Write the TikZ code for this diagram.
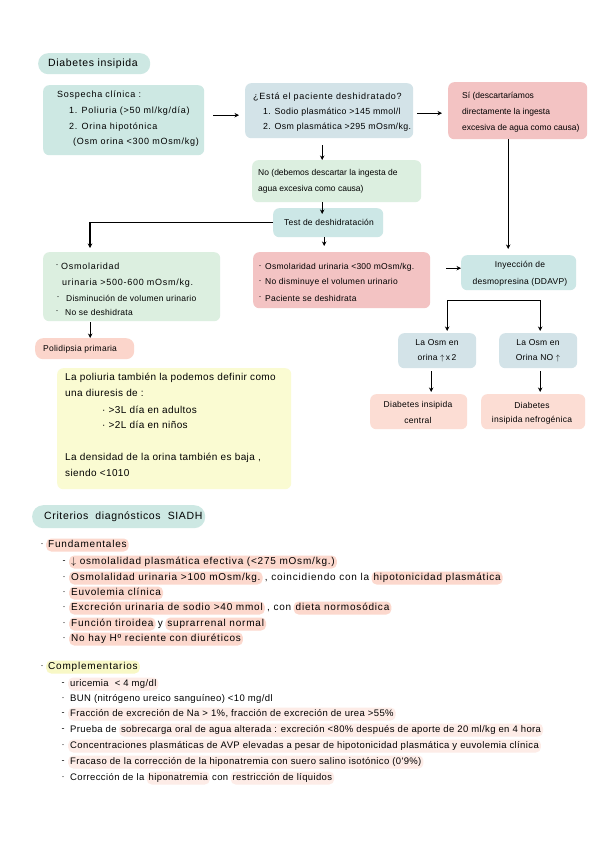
\documentclass[tikz,border=0pt]{standalone}
\usepackage{fontspec}
\setmainfont{Liberation Sans}
\newfontfamily\flowa{Liberation Sans}[LetterSpace=8]
\newfontfamily\flowb{Liberation Sans}[LetterSpace=3]
\newfontfamily\flowc{Liberation Sans}[LetterSpace=4]
\newfontfamily\listf{Liberation Sans}[LetterSpace=8]
\newfontfamily\compf{Liberation Sans}[LetterSpace=4]
\newfontfamily\titf{Liberation Sans}[LetterSpace=6]
\usetikzlibrary{arrows.meta,calc}
\definecolor{tealA}{HTML}{CDE8E3}
\definecolor{tealB}{HTML}{CCE7E6}
\definecolor{blueA}{HTML}{D3E3E8}
\definecolor{pinkA}{HTML}{F3C3C3}
\definecolor{greenA}{HTML}{DCEFE0}
\definecolor{peachA}{HTML}{FBD5CB}
\definecolor{peachB}{HTML}{FCDDD4}
\definecolor{yellowA}{HTML}{FAFBD2}
\definecolor{hlpeach}{HTML}{FCD8CD}
\definecolor{hllight}{HTML}{FDECE7}
\definecolor{hlyellow}{HTML}{F8F8C6}
\begin{document}
\begin{tikzpicture}[x=1pt,y=-1pt,
  box/.style={rounded corners=6pt, draw=none, inner sep=0pt, anchor=north west},
  txt/.style={inner sep=0pt, anchor=west, font=\flowb\fontsize{8.5}{10}\selectfont},
  txa/.style={inner sep=0pt, anchor=west, font=\flowa\fontsize{9}{10}\selectfont},
  txc/.style={inner sep=0pt, anchor=west, font=\flowc\fontsize{8.8}{10}\selectfont},
  txs/.style={inner sep=0pt, anchor=west, font=\fontsize{8.5}{10}\selectfont},
  ctxt/.style={inner sep=0pt, anchor=center, font=\flowb\fontsize{8.5}{10}\selectfont},
  ytxt/.style={inner sep=0pt, anchor=west, font=\compf\fontsize{10}{11}\selectfont},
  arr/.style={-{Stealth[length=4.5pt,width=4.5pt]}, line width=1.1pt},
  darr/.style={{Stealth[length=4.5pt,width=4.5pt]}-{Stealth[length=4.5pt,width=4.5pt]}, line width=1.1pt},
  li/.style={inner xsep=2pt, inner ysep=2pt, anchor=west, text height=7pt, text depth=2pt, font=\listf\fontsize{10}{11}\selectfont},
  lj/.style={inner xsep=2pt, inner ysep=2pt, anchor=west, text height=7pt, text depth=2pt, font=\compf\fontsize{9.5}{11}\selectfont},
  hl/.style={fill=hlpeach, rounded corners=5pt},
  hll/.style={fill=hllight, rounded corners=5pt},
  bul/.style={inner sep=0pt, anchor=center, font=\fontsize{9}{11}\selectfont}
]
\fill[white] (0,0) rectangle (599,848);
\useasboundingbox (0,0) rectangle (599,848);

% ---------- Diabetes insipida section ----------
\node[box, fill=tealA, rounded corners=10pt, minimum width=112pt, minimum height=21pt] (ditit) at (38,53) {};
\node[inner sep=0pt, anchor=west, font=\titf\fontsize{10.5}{12}\selectfont] (dititt) at (48,64) {Diabetes insipida};

\node[box, fill=tealA, minimum width=161pt, minimum height=70pt] (sos) at (43,85) {};
\node[txa] (sos1) at (57,95) {Sospecha clínica :};
\node[txa] (sos2) at (69,111) {1. Poliuria (>50 ml/kg/día)};
\node[txa] (sos3) at (69,127) {2. Orina hipotónica};
\node[txa] (sos4) at (73,142) {(Osm orina <300 mOsm/kg)};

\node[box, fill=blueA, minimum width=168pt, minimum height=55pt] (esta) at (245,83) {};
\node[txa] (esta1) at (253,97) {¿Está el paciente deshidratado?};
\node[txc] (esta2) at (263,112) {1. Sodio plasmático >145 mmol/l};
\node[txc] (esta3) at (263,127) {2. Osm plasmática >295 mOsm/kg.};

\node[box, fill=pinkA, minimum width=139pt, minimum height=57pt] (si) at (448,82) {};
\node[txs] (si1) at (462,96) {Sí (descartaríamos};
\node[txs] (si2) at (462,112) {directamente la ingesta};
\node[txs] (si3) at (462,128) {excesiva de agua como causa)};

\node[box, fill=greenA, minimum width=169pt, minimum height=42pt] (no) at (252,160) {};
\node[txs] (no1) at (258,173) {No (debemos descartar la ingesta de};
\node[txs] (no2) at (258,189) {agua excesiva como causa)};

\node[box, fill=tealB, minimum width=110pt, minimum height=29pt] (test) at (273,208) {};
\node[ctxt] (testt) at (329,222.5) {Test de deshidratación};

\node[box, fill=greenA, minimum width=177pt, minimum height=69pt] (green) at (43,252) {};
\node[bul] (g1b) at (57,266) {·};
\node[txa] (g1) at (61,266) {Osmolaridad};
\node[txa] (g2) at (62,283) {urinaria >500-600 mOsm/kg.};
\node[bul] (g3b) at (58,298) {·};
\node[txt] (g3) at (66,298) {Disminución de volumen urinario};
\node[bul] (g4b) at (57,312) {·};
\node[txt] (g4) at (65,312) {No se deshidrata};

\node[box, fill=peachA, rounded corners=8pt, minimum width=99pt, minimum height=21pt] (pol) at (35,338) {};
\node[txt] (polt) at (43,349) {Polidipsia primaria};

\node[box, fill=pinkA, minimum width=177pt, minimum height=56pt] (pinkm) at (253,252) {};
\node[bul] (p1b) at (260,267) {·};
\node[txt] (p1) at (265,267) {Osmolaridad urinaria <300 mOsm/kg.};
\node[bul] (p2b) at (260,282) {·};
\node[txt] (p2) at (265,282) {No disminuye el volumen urinario};
\node[bul] (p3b) at (260,298) {·};
\node[txt] (p3) at (265,298) {Paciente se deshidrata};

\node[box, fill=tealB, minimum width=115pt, minimum height=35pt] (iny) at (461,255) {};
\node[ctxt] (iny1) at (520,265) {Inyección de};
\node[ctxt] (iny2) at (520,282) {desmopresina (DDAVP)};

\node[box, fill=blueA, minimum width=78pt, minimum height=35pt] (osm1) at (398,333) {};
\node[ctxt] (osm1a) at (437,343) {La Osm en};
\node[ctxt] (osm1b) at (437,358) {orina $\uparrow$\,x\,2};

\node[box, fill=blueA, minimum width=78pt, minimum height=35pt] (osm2) at (499,333) {};
\node[ctxt] (osm2a) at (538,343) {La Osm en};
\node[ctxt] (osm2b) at (538,358) {Orina NO $\uparrow$};

\node[box, fill=peachB, minimum width=97pt, minimum height=35pt] (dic) at (370,394) {};
\node[ctxt] (dic1) at (418,405) {Diabetes insipida};
\node[ctxt] (dic2) at (418,420) {central};

\node[box, fill=peachB, minimum width=104pt, minimum height=35pt] (din) at (481,394) {};
\node[ctxt] (din1) at (532,405) {Diabetes};
\node[ctxt] (din2) at (532,420) {insipida nefrogénica};

\node[box, fill=yellowA, minimum width=234pt, minimum height=121pt] (yel) at (57,368) {};
\node[ytxt] (y1) at (65,378) {La poliuria también la podemos definir como};
\node[ytxt] (y2) at (65,393) {una diuresis de :};
\node[ytxt] (y3) at (102,410) {· >3L día en adultos};
\node[ytxt] (y4) at (102,425) {· >2L día en niños};
\node[ytxt] (y5) at (65,458) {La densidad de la orina también es baja ,};
\node[ytxt] (y6) at (65,473) {siendo <1010};

% connectors
\draw[arr] ($(sos.east)+(9,-5)$) -- ($(esta.west)+(-6,4.5)$);
\draw[arr] ($(esta.east)+(4,2.5)$) -- ($(si.west)+(-6,2.5)$);
\draw[arr] ($(esta.south)+(-7,7)$) -- ($(no.north)+(-14.5,0)$);
\draw[arr] ($(no.south)+(-14.5,0)$) -- ($(test.north)+(-6,6)$);
\draw[arr] (test.west) -| ($(green.north west)+(47,-4)$);
\draw[arr] ($(test.south)+(-4,0)$) -- ($(pinkm.north)+(-17.5,-6)$);
\draw[arr] ($(si.south)+(-9.5,0)$) -- ($(iny.north)+(-10.5,-6)$);
\draw[arr] ($(pinkm.east)+(16,-12)$) -- ($(iny.west)+(0,-4.5)$);
\draw[darr] ($(osm1.north)+(10,-2)$) |- ($(iny.south)+(0,10)$) -| ($(osm2.north)+(2,-2)$);
\draw[arr] ($(osm1.south)+(-6,3)$) -- ($(dic.north)+(12.5,-2)$);
\draw[arr] ($(osm2.south)+(2,3)$) -- ($(din.north)+(7,-2)$);
\draw[arr] ($(green.south)+(-41.5,1)$) -- ($(pol.north)+(5.5,0)$);

% ---------- SIADH section ----------
\node[box, fill=tealA, rounded corners=11pt, minimum width=173pt, minimum height=23pt] (sia) at (32,505) {};
\node[inner sep=0pt, anchor=west, font=\titf\fontsize{10.5}{12}\selectfont] (siat) at (44,517) {Criterios \ diagnósticos \ SIADH};

\node[bul] (fb) at (42,545) {·};
\node[li, hl] (fund) at (46,545) {Fundamentales};

\node[bul] (f1b) at (64,562) {-};
\node[li, hl] (f1) at (69,562) {$\downarrow$ osmolalidad plasmática efectiva (<275 mOsm/kg.)};

\node[bul] (f2b) at (64,578) {·};
\node[li, hl] (f2a) at (69,578) {Osmolalidad urinaria >100 mOsm/kg.};
\node[li] (f2t) at (f2a.east) {, coincidiendo con la};
\node[li, hl] (f2c) at (f2t.east) {hipotonicidad plasmática};

\node[bul] (f3b) at (64,593) {·};
\node[li, hl] (f3) at (69,593) {Euvolemia clínica};

\node[bul] (f4b) at (64,608) {·};
\node[li, hl] (f4a) at (69,608) {Excreción urinaria de sodio >40 mmol};
\node[li] (f4t) at (f4a.east) {, con};
\node[li, hl] (f4c) at (f4t.east) {dieta normosódica};

\node[bul] (f5b) at (64,624) {·};
\node[li, hl] (f5a) at (69,624) {Función tiroidea};
\node[li] (f5t) at (f5a.east) {y};
\node[li, hl] (f5c) at (f5t.east) {suprarrenal normal};

\node[bul] (f6b) at (64,639) {·};
\node[li, hl] (f6) at (69,639) {No hay Hº reciente con diuréticos};

\node[bul] (cb) at (42,667) {·};
\node[li, fill=hlyellow, rounded corners=5pt] (comp) at (46,667) {Complementarios};

\node[bul] (c1b) at (63,684) {-};
\node[lj, hll] (c1) at (68,684) {uricemia \ < 4 mg/dl};
\node[bul] (c2b) at (63,699) {·};
\node[lj] (c2) at (68,699) {BUN (nitrógeno ureico sanguíneo) <10 mg/dl};
\node[bul] (c3b) at (63,714) {-};
\node[lj, hll] (c3) at (68,714) {Fracción de excreción de Na > 1\%, fracción de excreción de urea >55\%};
\node[bul] (c4b) at (63,730) {-};
\node[lj] (c4a) at (68,730) {Prueba de};
\node[lj, hll] (c4c) at (c4a.east) {sobrecarga oral de agua alterada : excreción <80\% después de aporte de 20 ml/kg en 4 hora};
\node[bul] (c5b) at (63,746) {·};
\node[lj, hll] (c5) at (68,746) {Concentraciones plasmáticas de AVP elevadas a pesar de hipotonicidad plasmática y euvolemia clínica};
\node[bul] (c6b) at (63,762) {-};
\node[lj, hll] (c6) at (68,762) {Fracaso de la corrección de la hiponatremia con suero salino isotónico (0'9\%)};
\node[bul] (c7b) at (63,778) {·};
\node[lj] (c7a) at (68,778) {Corrección de la};
\node[lj, hll] (c7c) at (c7a.east) {hiponatremia};
\node[lj] (c7t) at (c7c.east) {con};
\node[lj, hll] (c7e) at (c7t.east) {restricción de líquidos};
\end{tikzpicture}
\end{document}
